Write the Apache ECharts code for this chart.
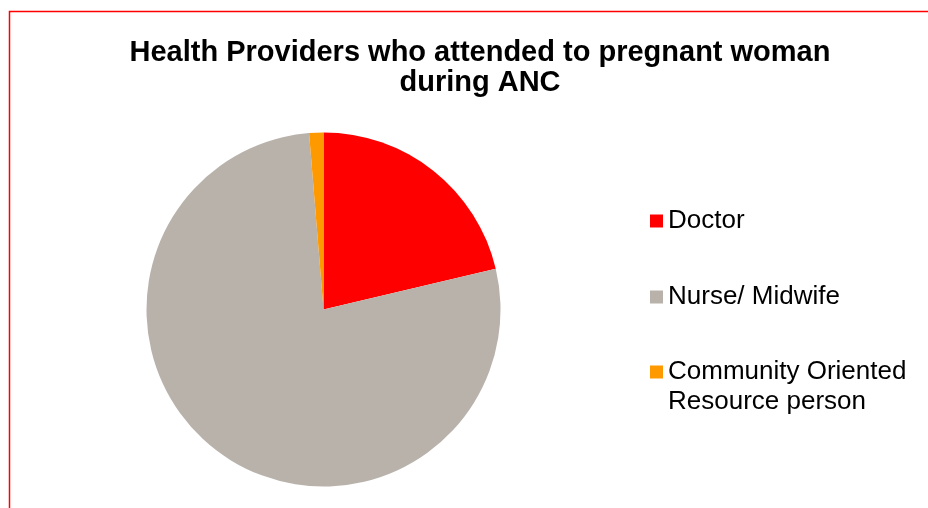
<!DOCTYPE html>
<html>
<head>
<meta charset="utf-8">
<script src="https://cdn.jsdelivr.net/npm/echarts@6/dist/echarts.min.js"></script>
<style>
html,body{margin:0;padding:0;background:#fff;}
#chart{width:928px;height:508px;}
</style>
</head>
<body>
<div id="chart"></div>
<script>
const titleText = 'Health Providers who attended to pregnant woman\nduring ANC';
const categories = ['Doctor', 'Nurse/ Midwife', 'Community Oriented\nResource person'];
const values = [21.3, 77.4, 1.3];
const colors = ['#FF0000', '#B8B2AB', '#FF9900'];

const chart = echarts.init(document.getElementById('chart'), null, {renderer: 'canvas'});
const font = '"Liberation Sans", Arial, sans-serif';
const legendText = {fontFamily: font, fontSize: 26, color: '#000', lineHeight: 30};

const option = {
  animation: false,
  backgroundColor: '#fff',
  title: {
    text: titleText,
    left: 475,
    top: 33,
    textAlign: 'center',
    textStyle: {fontFamily: font, fontSize: 29, fontWeight: 'bold', color: '#000', lineHeight: 30}
  },
  legend: [
    {
      left: 645, top: 201, orient: 'vertical',
      itemWidth: 13, itemHeight: 13, icon: 'rect',
      data: [categories[0]], textStyle: legendText
    },
    {
      left: 645, top: 277, orient: 'vertical',
      itemWidth: 13, itemHeight: 13, icon: 'rect',
      data: [categories[1]], textStyle: legendText
    },
    {
      left: 645, top: 322, orient: 'vertical',
      itemWidth: 13, itemHeight: 13, icon: 'rect',
      data: [categories[2]],
      // blank first line keeps the first text line level with the marker
      formatter: function (name) { return '\u00a0\n' + name; },
      textStyle: legendText
    }
  ],
  graphic: [{
    type: 'rect',
    shape: {x: 9.5, y: 11.5, width: 940, height: 520},
    style: {fill: 'none', stroke: '#FF0000', lineWidth: 1.5},
    silent: true, z: 100
  }],
  series: [{
    type: 'pie',
    center: [323.5, 309.5],
    radius: [0, 177],
    startAngle: 90,
    clockwise: true,
    label: {show: false},
    labelLine: {show: false},
    emphasis: {disabled: true},
    itemStyle: {borderWidth: 0},
    data: categories.map((c, i) => ({name: c, value: values[i], itemStyle: {color: colors[i]}}))
  }]
};
chart.setOption(option);
</script>
</body>
</html>
